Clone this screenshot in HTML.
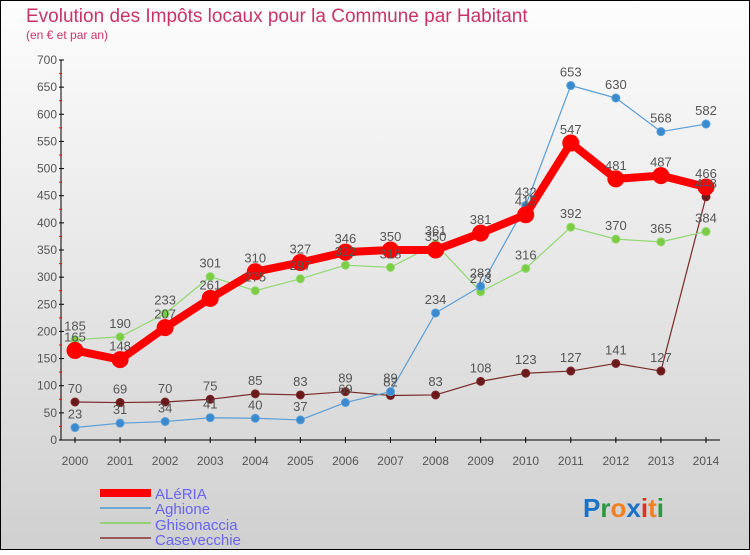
<!DOCTYPE html>
<html><head><meta charset="utf-8"><style>
body{margin:0}
svg text{font-family:"Liberation Sans",sans-serif}
</style></head><body>
<svg id="c" width="750" height="550" xmlns="http://www.w3.org/2000/svg">
<defs><linearGradient id="bg" x1="0" y1="0" x2="0" y2="1"><stop offset="0" stop-color="#fdfdfd"/><stop offset="1" stop-color="#d0d0d0"/></linearGradient></defs>
<rect x="0.5" y="0.5" width="749" height="549" fill="url(#bg)" stroke="#000"/>
<text x="26" y="22" font-size="19" fill="#c8336a">Evolution des Impôts locaux pour la Commune par Habitant</text>
<text x="26" y="39" font-size="12" fill="#c8336a">(en € et par an)</text>
<g id="axes"></g><g id="series"></g><g id="labels"></g>
<g>
<rect x="100" y="489" width="51" height="8" fill="#f00"/>
<text x="155" y="499" font-size="15" fill="#6666ee">ALéRIA</text>
<rect x="100" y="507" width="51" height="2" fill="#6fa8d0"/>
<text x="155" y="514" font-size="15" fill="#6666ee">Aghione</text>
<rect x="100" y="522" width="51" height="2" fill="#90d070"/>
<text x="155" y="530" font-size="15" fill="#6666ee">Ghisonaccia</text>
<rect x="100" y="537" width="51" height="2" fill="#9a5a5a"/>
<text x="155" y="545" font-size="15" fill="#6666ee">Casevecchie</text>
</g>
<g font-size="26" font-weight="bold">
<text x="583" y="517"><tspan fill="#1a73c8">P</tspan><tspan fill="#2a9a40">r</tspan><tspan fill="#f08020">o</tspan><tspan fill="#1a73c8">x</tspan><tspan fill="#e03020">i</tspan><tspan fill="#f08020">t</tspan><tspan fill="#2a9a40">i</tspan></text>
</g>
</svg>
<script>
const years=[2000,2001,2002,2003,2004,2005,2006,2007,2008,2009,2010,2011,2012,2013,2014];
const aleria=[165,148,207,261,310,327,346,350,350,381,415,547,481,487,466];
const aghione=[23,31,34,41,40,37,69,89,234,283,432,653,630,568,582];
const ghisonaccia=[185,190,233,301,275,297,322,318,361,273,316,392,370,365,384];
const casevecchie=[70,69,70,75,85,83,89,82,83,108,123,127,141,127,448];
const yTicks=[0,50,100,150,200,250,300,350,400,450,500,550,600,650,700];
const NS="http://www.w3.org/2000/svg";
const X=i=>75+i*(706-75)/(years.length-1);
const Y=v=>440-v*380/700;
function mk(t,a,p){const e=document.createElementNS(NS,t);for(const k in a)e.setAttribute(k,a[k]);p.appendChild(e);return e;}
const ax=document.getElementById('axes');
const yl=mk('line',{x1:61,y1:60,x2:61,y2:440,stroke:'#000'},ax);


const xl=mk('line',{x1:61,y1:440,x2:720,y2:440,stroke:'#000'},ax);


yTicks.forEach(v=>{
 mk('line',{x1:59,y1:Y(v),x2:64,y2:Y(v),stroke:'#000'},ax);
 if(v<700) mk('line',{x1:59,y1:Y(v+25),x2:62,y2:Y(v+25),stroke:'#f00'},ax);
 const t=mk('text',{x:57,y:Y(v)+4,'font-size':12,fill:'#555','text-anchor':'end'},ax);t.textContent=v;
 
 
});
years.forEach((yr,i)=>{
 mk('line',{x1:X(i),y1:437,x2:X(i),y2:443,stroke:'#000'},ax);
 const t=mk('text',{x:X(i),y:465,'font-size':12,fill:'#555','text-anchor':'middle'},ax);t.textContent=yr;
 
 
});
const sg=document.getElementById('series'),lg=document.getElementById('labels');
function draw(d,name,col,dot,w,r){
 const g=mk('g',{},sg);
 
 
 mk('polyline',{points:d.map((v,i)=>X(i)+','+Y(v)).join(' '),fill:'none',stroke:col,'stroke-width':w,'stroke-linejoin':'round'},g);
 d.forEach((v,i)=>{
  const c=mk('circle',{cx:X(i),cy:Y(v),r:r,fill:dot,stroke:col,'stroke-width':1},g);
  
  
  const t=mk('text',{x:X(i),y:Y(v)-9,'font-size':13,fill:'#555','text-anchor':'middle'},lg);t.textContent=v;
  
  
 });
}
draw(casevecchie,'casevecchie','#7a2a2a','#6a1a1a',1.2,4);
draw(ghisonaccia,'ghisonaccia','#90d870','#7ccc44',1.2,4);
draw(aghione,'aghione','#5a9ed6','#3a8ad0',1.2,4);
draw(aleria,'aleria','#f00','#f00',8,8);
</script>
</body></html>
